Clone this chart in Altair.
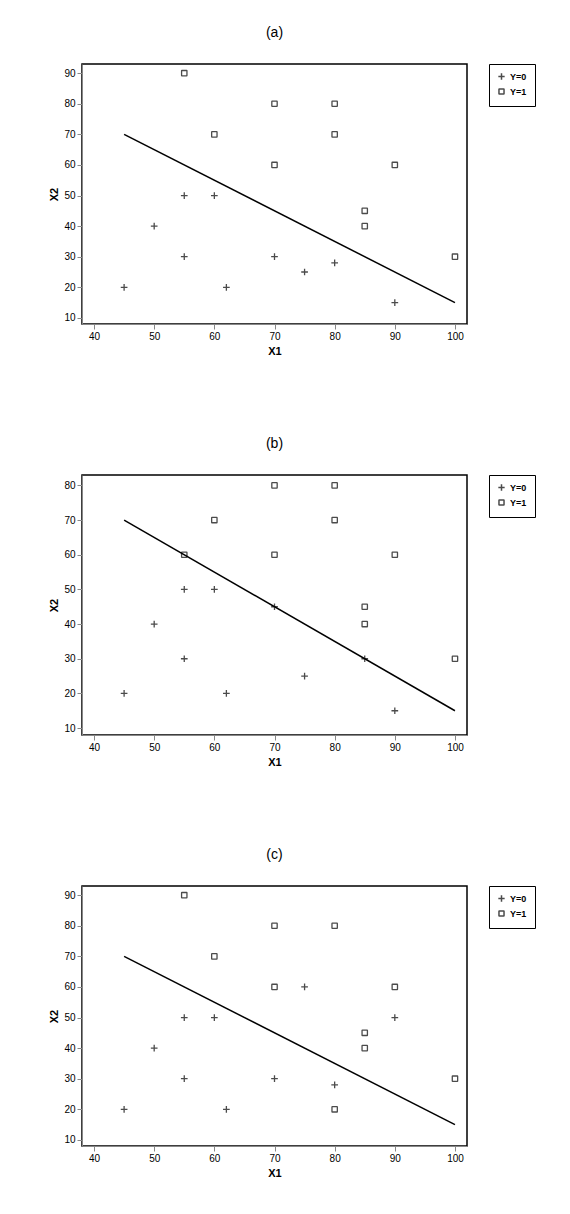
import altair as alt
import pandas as pd

# panel (a)
a_x0 = [45, 50, 55, 55, 60, 62, 70, 75, 80, 90]
a_y0 = [20, 40, 50, 30, 50, 20, 30, 25, 28, 15]
a_x1 = [55, 60, 70, 70, 80, 80, 85, 85, 90, 100]
a_y1 = [90, 70, 80, 60, 80, 70, 45, 40, 60, 30]

# panel (b)
b_x0 = [45, 50, 55, 55, 60, 62, 70, 75, 85, 90]
b_y0 = [20, 40, 50, 30, 50, 20, 45, 25, 30, 15]
b_x1 = [55, 60, 70, 70, 80, 80, 85, 85, 90, 100]
b_y1 = [60, 70, 80, 60, 80, 70, 45, 40, 60, 30]

# panel (c)
c_x0 = [45, 50, 55, 55, 60, 62, 70, 75, 80, 90]
c_y0 = [20, 40, 50, 30, 50, 20, 30, 60, 28, 50]
c_x1 = [55, 60, 70, 70, 80, 80, 85, 85, 90, 100]
c_y1 = [90, 70, 80, 60, 80, 20, 45, 40, 60, 30]

line_x = [45, 100]
line_y = [70, 15]

PLUS = "M-1,0H1M0,-1V1"
SQUARE = "M-0.7,-0.8H0.7Q0.8,-0.8 0.8,-0.7V0.7Q0.8,0.8 0.7,0.8H-0.7Q-0.8,0.8 -0.8,0.7V-0.7Q-0.8,-0.8 -0.7,-0.8Z"


def panel(title, x0, y0, x1, y1, ymax):
    pts = pd.DataFrame({
        "X1": x0 + x1,
        "X2": y0 + y1,
        "g": ["Y=0"] * len(x0) + ["Y=1"] * len(x1),
    })
    ln = pd.DataFrame({"X1": line_x, "X2": line_y})
    xs = alt.Scale(domain=[38, 102], nice=False, zero=False)
    ys = alt.Scale(domain=[8, ymax + 3], nice=False, zero=False)
    xa = alt.Axis(values=list(range(40, 101, 10)), grid=False, title="X1", labelOverlap=False)
    ya = alt.Axis(values=list(range(10, ymax + 1, 10)), grid=False, title="X2", labelOverlap=False)
    xenc = alt.X("X1:Q", scale=xs, axis=xa)
    yenc = alt.Y("X2:Q", scale=ys, axis=ya)
    l = alt.Chart(ln).mark_line(color="black", strokeWidth=1.5).encode(x=xenc, y=yenc)
    p = alt.Chart(pts).mark_point(filled=False, stroke="black", strokeWidth=1.3, size=45).encode(
        x=xenc,
        y=yenc,
        shape=alt.Shape("g:N", scale=alt.Scale(domain=["Y=0", "Y=1"], range=[PLUS, SQUARE]),
                        legend=alt.Legend(title=None, strokeColor="black", padding=8,
                                          offset=22, orient="right", symbolStrokeColor="black",
                                          symbolSize=40, labelFontSize=9, labelFontWeight="bold")),
    )
    return alt.layer(l, p).properties(
        width=385, height=260,
        view=alt.ViewBackground(stroke="black", strokeWidth=1.5),
        title=alt.TitleParams(title, fontSize=14, fontWeight="normal", offset=24),
    )


chart = alt.vconcat(
    panel("(a)", a_x0, a_y0, a_x1, a_y1, 90),
    panel("(b)", b_x0, b_y0, b_x1, b_y1, 80),
    panel("(c)", c_x0, c_y0, c_x1, c_y1, 90),
    spacing=78,
).resolve_legend(shape="independent").resolve_scale(shape="independent").properties(
    padding={"left": 40, "top": 16, "right": 0, "bottom": 0}
).configure_view(
    stroke="black", strokeWidth=1.5
).configure_axis(
    labelColor="black", titleColor="black", domainColor="black", tickColor="black",
    labelFontSize=9, titleFontSize=13, titleFontWeight="normal", labelFontWeight="bold",
).configure(font="Liberation Sans")

chart.save("out.html", embed_options={"renderer": "svg", "actions": False})
